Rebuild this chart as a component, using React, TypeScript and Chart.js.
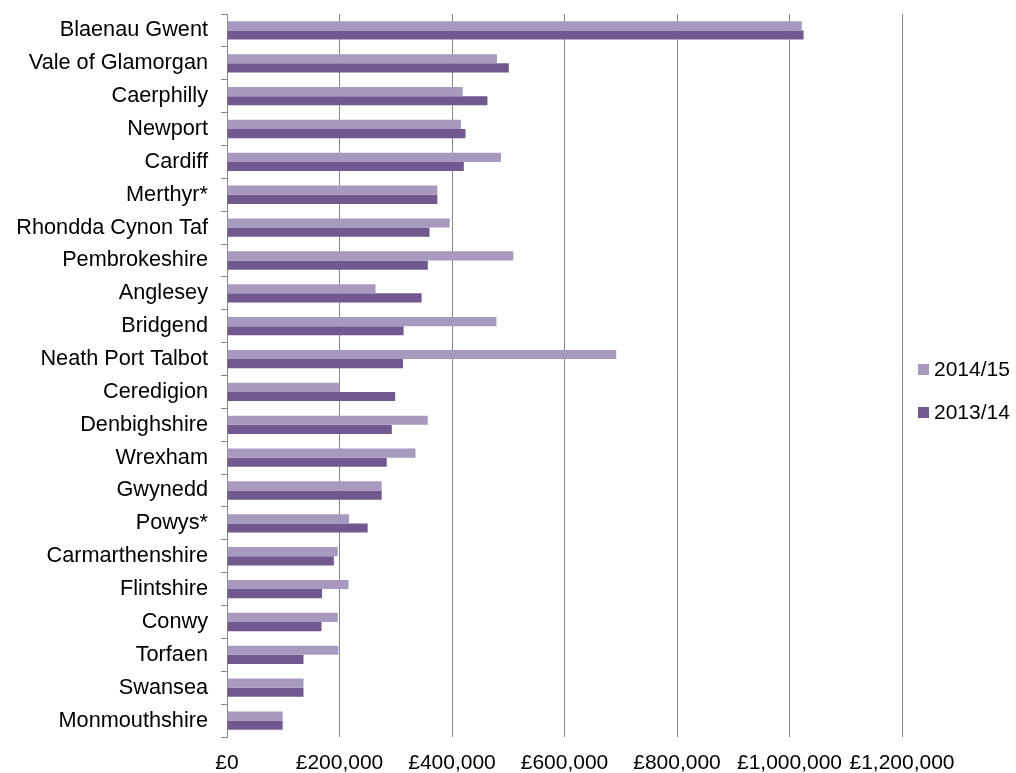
import React, { useEffect, useRef } from "react";
import { Chart, registerables } from "chart.js";

Chart.register(...registerables);

const categories = [
  "Blaenau Gwent",
  "Vale of Glamorgan",
  "Caerphilly",
  "Newport",
  "Cardiff",
  "Merthyr*",
  "Rhondda Cynon Taf",
  "Pembrokeshire",
  "Anglesey",
  "Bridgend",
  "Neath Port Talbot",
  "Ceredigion",
  "Denbighshire",
  "Wrexham",
  "Gwynedd",
  "Powys*",
  "Carmarthenshire",
  "Flintshire",
  "Conwy",
  "Torfaen",
  "Swansea",
  "Monmouthshire",
];

const values2014_15 = [
  1022000, 480000, 419000, 416000, 487000, 374000, 396000, 509000, 264000,
  479000, 692000, 199000, 357000, 335000, 275000, 217000, 197000, 216000,
  197000, 198000, 136000, 99000,
];

const values2013_14 = [
  1025000, 501000, 463000, 424000, 421000, 374000, 360000, 357000, 346000,
  314000, 313000, 299000, 293000, 284000, 275000, 250000, 190000, 169000,
  168000, 136000, 136000, 99000,
];

const seriesNames = ["2014/15", "2013/14"];
const seriesColors = ["#A89ABE", "#71588E"];

const xTicks = [0, 200000, 400000, 600000, 800000, 1000000, 1200000];

const FONT = "'Liberation Sans', Arial, sans-serif";

const customLegend = {
  id: "customLegend",
  afterDraw(chart: any) {
    const { ctx, chartArea } = chart;
    ctx.save();
    ctx.font = `21px ${FONT}`;
    ctx.textBaseline = "middle";
    ctx.textAlign = "left";
    const x = chartArea.right + 16;
    const startY = 364;
    const step = 43;
    seriesNames.forEach((name, i) => {
      const y = startY + i * step;
      ctx.fillStyle = seriesColors[i];
      ctx.fillRect(x, y, 11, 11);
      ctx.fillStyle = "#000";
      ctx.fillText(name, x + 16, y + 6.5);
    });
    ctx.restore();
  },
};

export default function App() {
  const canvasRef = useRef<HTMLCanvasElement | null>(null);

  useEffect(() => {
    if (!canvasRef.current) return;
    const chart = new Chart(canvasRef.current, {
      type: "bar",
      data: {
        labels: categories,
        datasets: [
          {
            label: seriesNames[0],
            data: values2014_15,
            backgroundColor: seriesColors[0],
            borderWidth: 0,
            barPercentage: 1,
            categoryPercentage: 0.557,
          },
          {
            label: seriesNames[1],
            data: values2013_14,
            backgroundColor: seriesColors[1],
            borderWidth: 0,
            barPercentage: 1,
            categoryPercentage: 0.557,
          },
        ],
      },
      options: {
        indexAxis: "y",
        animation: false,
        responsive: false,
        maintainAspectRatio: false,
        layout: { padding: { top: 14, right: 114, left: 0, bottom: 0 } },
        plugins: {
          legend: { display: false },
          tooltip: { enabled: false },
        },
        scales: {
          x: {
            min: 0,
            max: 1200000,
            afterBuildTicks: (scale: any) => {
              scale.ticks = xTicks.map((v) => ({ value: v }));
            },
            afterFit: (scale: any) => {
              scale.height = 36;
              scale.paddingLeft = 0;
              scale.paddingRight = 0;
            },
            grid: {
              color: "#878787",
              lineWidth: 1,
              drawTicks: false,
            },
            border: { display: false },
            ticks: {
              padding: 14,
              color: "#000",
              font: { family: FONT, size: 21 },
              maxRotation: 0,
              autoSkip: false,
              callback: (v: any) => "£" + Number(v).toLocaleString("en-GB"),
            },
          },
          y: {
            afterFit: (scale: any) => {
              scale.width = 227;
              scale.paddingTop = 0;
              scale.paddingBottom = 0;
            },
            grid: {
              offset: true,
              drawOnChartArea: false,
              drawTicks: true,
              tickLength: 6,
              color: "#878787",
            },
            border: { display: true, color: "#878787", width: 1 },
            ticks: {
              padding: 13,
              color: "#000",
              autoSkip: false,
              font: { family: FONT, size: 21.7 },
            },
          },
        },
      },
      plugins: [customLegend],
    });
    return () => chart.destroy();
  }, []);

  return (
    <div
      style={{
        position: "fixed",
        left: 0,
        top: 0,
        width: 1016,
        height: 773,
        background: "#fff",
      }}
    >
      <canvas ref={canvasRef} width={1016} height={773} />
    </div>
  );
}
